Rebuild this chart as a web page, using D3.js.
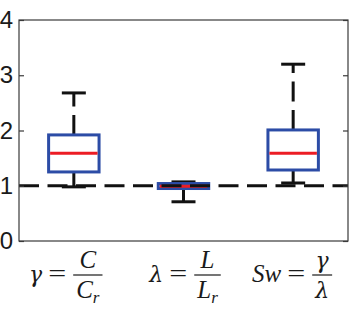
<!DOCTYPE html>
<html>
<head>
<meta charset="utf-8">
<script src="https://cdn.jsdelivr.net/npm/d3@7"></script>
<style>
  html, body { margin: 0; padding: 0; background: #fff; }
  svg { display: block; }
</style>
</head>
<body>
<svg id="chart" width="355" height="312"></svg>
<script>
// ---- data ----
const categories = ["gamma", "lambda", "Sw"];
const whiskerLow  = [0.98, 0.71, 1.05];
const q1          = [1.25, 0.95, 1.285];
const median      = [1.59, 0.99, 1.59];
const q3          = [1.92, 1.04, 2.01];
const whiskerHigh = [2.68, 1.07, 3.20];
const refValue = 1;
const yTicks = [0, 1, 2, 3, 4];
// x tick label pieces (math expressions)
const lhsVar  = ["γ", "λ", "Sw"];
const numer   = ["C", "L", "γ"];
const denom   = ["C", "L", "λ"];
const denomSub = ["r", "r", ""];

// ---- layout ----
const W = 355, H = 312;
const m = { left: 19, right: 7, top: 20, bottom: 71 };
const svg = d3.select("#chart");
svg.append("rect").attr("width", W).attr("height", H).attr("fill", "#fff");

const x = d3.scaleBand().domain(categories).range([m.left, W - m.right]).paddingInner(0).paddingOuter(0);
const y = d3.scaleLinear().domain([0, 4]).range([H - m.bottom, m.top]);
const cx = c => x(c) + x.bandwidth() / 2;
const boxHalf = x.bandwidth() * 0.23;
const capHalf = 12;

const BLUE = "#2c4ca6", RED = "#ec1c24", BLACK = "#111";

const g = svg.append("g");
const rows = categories.map((c, i) => ({ c, i, lo: whiskerLow[i], q1: q1[i], med: median[i], q3: q3[i], hi: whiskerHigh[i] }));

// whiskers (drawn outward from the box)
g.selectAll(".wu").data(rows).join("line")
  .attr("x1", d => cx(d.c)).attr("x2", d => cx(d.c))
  .attr("y1", d => y(d.q3)).attr("y2", d => y(d.hi))
  .attr("stroke", BLACK).attr("stroke-width", 3).attr("stroke-dasharray", "20,8.5");
g.selectAll(".wl").data(rows).join("line")
  .attr("x1", d => cx(d.c)).attr("x2", d => cx(d.c))
  .attr("y1", d => y(d.q1)).attr("y2", d => y(d.lo))
  .attr("stroke", BLACK).attr("stroke-width", 3).attr("stroke-dasharray", "20,8.5");
// caps
["hi", "lo"].forEach(k => {
  g.selectAll(".cap" + k).data(rows).join("line")
    .attr("x1", d => cx(d.c) - capHalf).attr("x2", d => cx(d.c) + capHalf)
    .attr("y1", d => y(d[k])).attr("y2", d => y(d[k]))
    .attr("stroke", BLACK).attr("stroke-width", 3);
});
// boxes
g.selectAll(".box").data(rows).join("rect")
  .attr("x", d => cx(d.c) - boxHalf).attr("width", boxHalf * 2)
  .attr("y", d => y(d.q3)).attr("height", d => y(d.q1) - y(d.q3))
  .attr("fill", "none").attr("stroke", BLUE).attr("stroke-width", 3);
// medians
g.selectAll(".med").data(rows).join("line")
  .attr("x1", d => cx(d.c) - boxHalf + 1.5).attr("x2", d => cx(d.c) + boxHalf - 1.5)
  .attr("y1", d => y(d.med)).attr("y2", d => y(d.med))
  .attr("stroke", RED).attr("stroke-width", 3);

// reference dashed line
g.append("line")
  .attr("x1", m.left).attr("x2", W - m.right)
  .attr("y1", y(refValue)).attr("y2", y(refValue))
  .attr("stroke", BLACK).attr("stroke-width", 3).attr("stroke-dasharray", "20,8.5");

// frame
svg.append("rect")
  .attr("x", m.left).attr("y", m.top)
  .attr("width", W - m.right - m.left).attr("height", H - m.bottom - m.top)
  .attr("fill", "none").attr("stroke", "#3a3a3a").attr("stroke-width", 1.2);

// y axes (inner ticks)
const yl = svg.append("g").attr("transform", `translate(${m.left},0)`)
  .call(d3.axisLeft(y).tickValues(yTicks).tickFormat(d3.format("d")).tickSize(-5).tickPadding(6));
yl.select(".domain").remove();
yl.selectAll("line").attr("stroke", "#3a3a3a").attr("stroke-width", 1.2);
yl.selectAll("text").attr("font-family", "Liberation Sans, Arial, sans-serif").attr("font-size", 24).attr("fill", "#1a1a1a");
const yr = svg.append("g").attr("transform", `translate(${W - m.right},0)`)
  .call(d3.axisRight(y).tickValues(yTicks).tickFormat("").tickSize(-5));
yr.select(".domain").remove();
yr.selectAll("line").attr("stroke", "#3a3a3a").attr("stroke-width", 1.2);

// x tick labels as fractions
const labelShift = [14, 24, 29];
const FS = 25, FF = "Liberation Serif, Times New Roman, serif";
const GREEK = "DejaVu Serif, serif";
const isGreek = s => /[\u0370-\u03ff]/.test(s);
const axisY = 275;      // fraction bar position
const lg = svg.append("g").attr("font-family", FF).attr("fill", "#1a1a1a");
const styleVar = (sel, s) => sel.attr("font-style", "italic")
  .attr("font-family", isGreek(s) ? GREEK : FF)
  .attr("font-size", isGreek(s) ? 22 : FS).text(s);
categories.forEach((c, i) => {
  const fx = cx(c) + labelShift[i];
  const gg = lg.append("g");
  const num = gg.append("text").attr("x", fx).attr("y", axisY - 7).attr("text-anchor", "middle");
  styleVar(num, numer[i]);
  const den = gg.append("text").attr("x", fx).attr("y", axisY + 23).attr("text-anchor", "middle")
    .attr("font-size", FS);
  styleVar(den.append("tspan"), denom[i]);
  if (denomSub[i]) den.append("tspan").attr("font-style", "italic").attr("font-size", 17).attr("dy", 5).text(denomSub[i]);
  const w = Math.max(num.node().getComputedTextLength(), den.node().getComputedTextLength());
  const half = w / 2 + 3;
  gg.append("line").attr("x1", fx - half).attr("x2", fx + half)
    .attr("y1", axisY).attr("y2", axisY).attr("stroke", "#1a1a1a").attr("stroke-width", 1.2);
  const eqRight = fx - half - 7;
  gg.append("text").attr("x", eqRight - 18).attr("y", axisY + 7)
    .attr("font-size", FS).attr("textLength", 18).attr("lengthAdjust", "spacingAndGlyphs").text("=");
  const lhs = gg.append("text").attr("x", eqRight - 18 - 6).attr("y", axisY + 7).attr("text-anchor", "end");
  styleVar(lhs, lhsVar[i]);
});
</script>
</body>
</html>
